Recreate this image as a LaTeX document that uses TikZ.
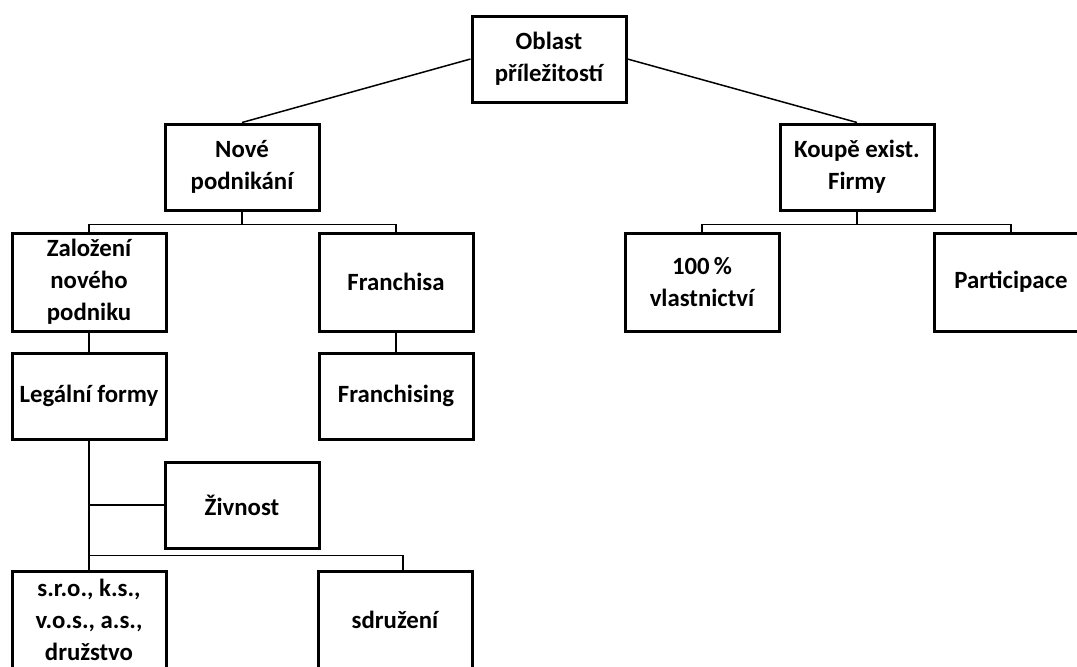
\documentclass[tikz,border=0pt]{standalone}
\usepackage{fontspec}
\setmainfont{Carlito}
\tikzset{
  box/.style={draw, line width=1.5pt, inner sep=0pt, align=center,
    minimum width=77pt, minimum height=43pt,
    font=\bfseries\fontsize{12.4}{16}\selectfont},
  tall/.style={box, minimum height=49pt},
  link/.style={line width=0.75pt}
}
\begin{document}
\begin{tikzpicture}[x=0.5pt, y=-0.5pt]
			\useasboundingbox (0,0) rectangle (1077,666);
			\clip (0,0) rectangle (1077,666);
			
			% Koren
			\node[box] (oblast) at (549,59) {Oblast\\příležitostí};
			
			% Uroven 1
			\node[box] (nove) at (242,167) {Nové\\podnikání};
			\node[box] (koupe) at (857,167) {Koupě exist.\\Firmy};
			
			% Uroven 2
			\node[tall] (zalozeni) at (89,282) {Založení\\nového\\podniku};
			\node[tall] (franchisa) at (396,282) {Franchisa};
			\node[tall] (vlastnictvi) at (702,282) {100\,\%\\vlastnictví};
			\node[tall] (participace) at (1011,282) {Participace};
			
			% Uroven 3
			\node[box] (legalni) at (89,396) {Legální formy};
			\node[box] (franchising) at (396,396) {Franchising};
			
			% Pravni formy
			\node[box] (zivnost) at (242,505) {Živnost};
			\node[tall] (sro) at (89,620) {s.r.o., k.s.,\\v.o.s., a.s.,\\družstvo};
			\node[tall] (sdruzeni) at (395,620) {sdružení};
			
			% Spojnice
			\draw[link] (oblast.west) -- (nove.north);
			\draw[link] (oblast.east) -- (koupe.north);
			\draw[link] (nove.south) -- ++(0,13) -| (zalozeni.north);
			\draw[link] (nove.south) -- ++(0,13) -| (franchisa.north);
			\draw[link] (koupe.south) -- ++(0,13) -| (vlastnictvi.north);
			\draw[link] (koupe.south) -- ++(0,13) -| (participace.north);
			\draw[link] (zalozeni.south) -- (legalni.north);
			\draw[link] (franchisa.south) -- (franchising.north);
			\draw[link] (legalni.south) -- (sro.north);
			\draw[link] (zivnost.west) -- (zivnost.west -| legalni.south);
			\draw[link] ([xshift=4pt]sdruzeni.north) -- ++(0,-14) -| (sro.north);
		\end{tikzpicture}
\end{document}
